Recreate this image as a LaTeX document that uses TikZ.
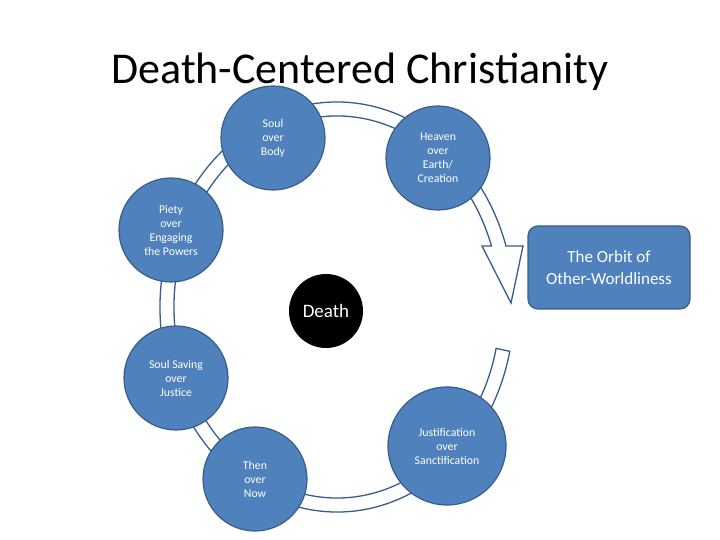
\documentclass[tikz,border=0pt]{standalone}
\usepackage{fontspec}
\setmainfont{Carlito}
\usepackage{xcolor}
\usetikzlibrary{shapes.geometric, arrows.meta, positioning, calc}
\definecolor{orbitBlue}{RGB}{79, 129, 189}
\definecolor{orbitEdge}{RGB}{56, 93, 138}

\begin{document}
\begin{tikzpicture}[
        x=1pt, y=1pt,
        stage/.style={circle, draw=orbitEdge, fill=orbitBlue, line width=1.2pt, minimum size=104pt, inner sep=0pt, align=center, text=white, font=\fontsize{11.8}{14}\selectfont},
        core/.style={circle, fill=black, minimum size=74pt, inner sep=0pt, text=white, font=\fontsize{19}{22}\selectfont},
        label/.style={rectangle, rounded corners=10pt, draw=orbitEdge, fill=orbitBlue, line width=1.2pt, minimum width=162pt, minimum height=83pt, align=center, text=white, font=\fontsize{17}{22}\selectfont},
        ring/.style={draw=orbitEdge, fill=white, line width=1.3pt, line join=miter}
    ]
        \useasboundingbox (0,0) rectangle (720,540);

        % Title
        \node[font=\fontsize{44}{50}\selectfont] (title) at (360,468) {Death-Centered Christianity};

        % Orbit arrow
        \coordinate (orbit) at (337,233);
        \coordinate (wout) at (523,294);
        \coordinate (win) at (482,294);
        \coordinate (tip) at (511,237);
        \draw[ring] ($(orbit)+(-12.5:177 and 205)$)
            arc[start angle=-12.5, end angle=-342.7, x radius=177, y radius=205]
            -- (wout) -- (tip) -- (win) -- ($(orbit)+(18.6:163 and 191)$)
            arc[start angle=18.6, end angle=347.5, x radius=163, y radius=191]
            -- cycle;

        % Centre
        \node[core] (death) at (326,229) {Death};

        % Stages
        \node[stage] (body) at (273,402) {Soul\\over\\Body};
        \node[stage] (heaven) at (438,382) {Heaven\\over\\Earth/\\Creation};
        \node[stage] (piety) at (171,310) {Piety\\over\\Engaging\\the Powers};
        \node[stage] (saving) at (176,162) {Soul Saving\\over\\Justice};
        \node[stage] (then) at (255,61) {Then\\over\\Now};
        \node[stage, minimum size=118pt] (just) at (447,94) {Justification\\over\\Sanctification};

        % Output
        \node[label] (other) at (609,272.5) {The Orbit of\\Other-Worldliness};
    \end{tikzpicture}
\end{document}
